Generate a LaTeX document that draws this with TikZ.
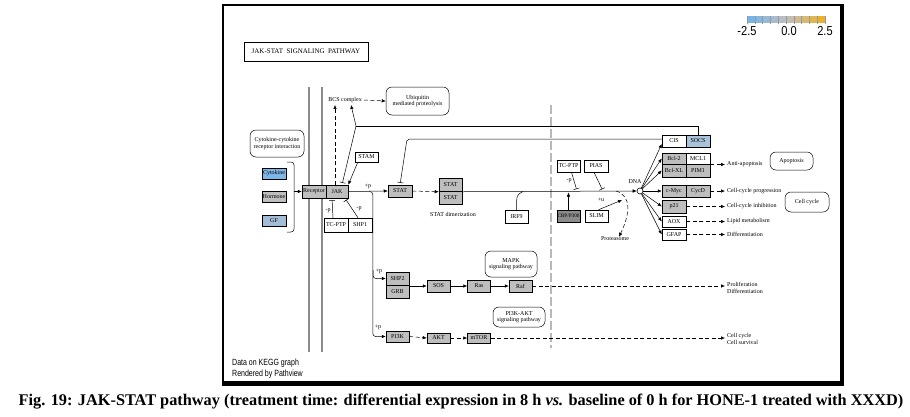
\documentclass[tikz,border=0pt]{standalone}
\usepackage{fontspec}
\setmainfont{Liberation Serif}
\setsansfont{Liberation Sans}
\usetikzlibrary{arrows.meta}
\definecolor{genegray}{HTML}{BEBEBE}
\definecolor{genedarkgray}{HTML}{8C8C8C}
\definecolor{cytoblue}{HTML}{7DB7E8}
\definecolor{gfblue}{HTML}{A3BDD6}
\definecolor{socsblue}{HTML}{A9C4DA}
\definecolor{membrane}{HTML}{8A8A8A}
\definecolor{nucmem}{HTML}{B8B8B8}
\definecolor{keyblue}{HTML}{6FB3E9}
\definecolor{keygray}{HTML}{C0C0C0}
\definecolor{keyorange}{HTML}{F2B01E}
\definecolor{keytick}{HTML}{8E9AA6}
\begin{document}
\begin{tikzpicture}[x=1pt,y=-1pt,
  gene/.style={draw,rectangle,inner sep=0pt,minimum width=24pt,minimum height=12pt,line width=0.5pt,font=\fontsize{6}{6.5}\selectfont},
  genegrey/.style={gene,fill=genegray},
  genedark/.style={gene,fill=genedarkgray},
  pathway/.style={draw,rounded corners=6pt,inner sep=0pt,align=center,line width=0.5pt,font=\fontsize{6}{6.5}\selectfont},
  lbl/.style={inner sep=0pt,align=center,font=\fontsize{6}{6.5}\selectfont},
  outlbl/.style={lbl,anchor=west,align=left,inner xsep=2pt},
  act/.style={line width=0.5pt,-{Latex[length=4pt,width=3.5pt]}},
  dact/.style={act,dash pattern=on 4pt off 2.5pt},
  inhib/.style={line width=0.5pt,-{Bar[width=6pt]},shorten >=2pt},
]
\useasboundingbox (0,0) rectangle (910,416);
\draw[line width=2pt] (223,5) rectangle (841,382);
\draw[line width=3.5pt] (842,4) -- (842,384) -- (222,384);
\node[draw,line width=0.8pt,minimum width=124pt,minimum height=19pt,inner sep=0pt,font=\fontsize{7}{7}\selectfont] (title) at (306,51.5) {JAK-STAT\ \ SIGNALING\ \ PATHWAY};
\draw[membrane,line width=1.3pt] (309,87) -- (309,352);
\draw[membrane,line width=1.3pt] (322,87) -- (322,352);
\draw[nucmem,line width=2pt,dash pattern=on 9pt off 3pt] (551,105) -- (551,348);
\foreach \i/\p in {0/90,1/70,2/50,3/30,4/10}
  \fill[keyblue!\p!keygray] (747+7.8*\i,16) rectangle ++(7.8,7);
\foreach \i/\p in {5/10,6/30,7/50,8/70,9/90}
  \fill[keyorange!\p!keygray] (747+7.8*\i,16) rectangle ++(7.8,7);
\foreach \i in {0,...,10}
  \draw[keytick,line width=0.4pt] (747+7.8*\i,16) -- ++(0,8);
\node[inner sep=0pt,font=\sffamily] (keymin) at (747,31.5) {\scalebox{0.85}[1]{\fontsize{13}{13}\selectfont -2.5}};
\node[inner sep=0pt,font=\sffamily] (keymid) at (789,31.5) {\scalebox{0.85}[1]{\fontsize{13}{13}\selectfont 0.0}};
\node[inner sep=0pt,font=\sffamily] (keymax) at (825,31.5) {\scalebox{0.85}[1]{\fontsize{13}{13}\selectfont 2.5}};
\node[lbl,inner sep=2pt] (bcs) at (345,100) {BCS complex};
\node[pathway,minimum width=63pt,minimum height=28pt] (ubiq) at (417.5,101) {Ubiquitin\\mediated proteolysis};
\node[pathway,minimum width=54pt,minimum height=27pt] (ccri) at (277,143.5) {Cytokine-cytokine\\receptor interaction};
\node[gene,fill=cytoblue,minimum height=11pt] (cytokine) at (274,173.5) {Cytokine};
\node[genegrey,minimum height=11pt] (hormone) at (274,197) {Hormone};
\node[gene,fill=gfblue,minimum height=11pt] (gf) at (274,221) {GF};
\draw[line width=0.5pt,rounded corners=3pt] (287,162) -- (294,162) -- (294,232) -- (287,232);
\coordinate (brk) at (294,191.5);
\node[genegrey,minimum height=13pt] (receptor) at (314,191.5) {Receptor};
\node[genegrey,minimum width=22pt,minimum height=13pt] (jak) at (337,191.5) {JAK};
\node[gene,minimum width=23pt,minimum height=10pt] (stam) at (366.5,157) {STAM};
\node[genegrey] (stat) at (400,191) {STAT};
\node[genegrey,minimum width=23pt,minimum height=13pt] (stattop) at (450.5,185) {STAT};
\node[genegrey,minimum width=23pt,minimum height=13pt] (statbot) at (450.5,198) {STAT};
\node[lbl] (dimlbl) at (453,214) {STAT dimerization};
\node[gene,minimum width=23pt,minimum height=13pt] (irf) at (516.5,216.5) {IRF9};
\node[gene,minimum height=14pt] (tcptp) at (336,225) {TC-PTP};
\node[gene,minimum height=14pt] (shp) at (360,225) {SHP1};
\node[genegrey,minimum width=23pt,minimum height=13pt] (shptwo) at (397.5,278.5) {SHP2};
\node[genegrey,minimum width=23pt,minimum height=13pt] (grb) at (397.5,291.5) {GRB};
\node[genegrey,minimum width=23pt] (sos) at (438.5,286) {SOS};
\node[genegrey,minimum width=23pt] (ras) at (479,286) {Ras};
\node[genegrey,minimum width=23pt] (raf) at (520.5,286) {Raf};
\node[pathway,minimum width=52pt,minimum height=26pt] (mapk) at (511,264) {MAPK\\signaling pathway};
\node[genegrey,minimum width=23pt,minimum height=11pt] (pik) at (397.5,336.5) {PI3K};
\node[genegrey,minimum width=23pt,minimum height=10pt] (akt) at (438.5,338) {AKT};
\node[genegrey,minimum width=23pt,minimum height=10pt] (mtor) at (479,338) {mTOR};
\node[pathway,minimum width=52pt,minimum height=20pt] (pikakt) at (519,317) {PI3K-AKT\\signaling pathway};
\node[gene,minimum width=23pt] (tcptpn) at (568.5,166) {TC-PTP};
\node[gene] (pias) at (596,166) {PIAS};
\node[genedark,minimum width=23pt,font=\fontsize{5.2}{6}\selectfont] (cbp) at (568.5,216) {CBP/P300};
\node[gene,minimum width=23pt] (slim) at (596.5,216) {SLIM};
\node[draw,circle,minimum size=6pt,inner sep=0pt,line width=0.6pt] (dna) at (640,191) {};
\node[lbl] (dnalbl) at (635,182) {DNA};
\node[lbl] (protlbl) at (615,239) {Proteasome};
\node[gene] (cis) at (674,141) {CIS};
\node[gene,fill=socsblue] (socs) at (698,141) {SOCS};
\node[genegrey,minimum height=11.5pt] (bcltwo) at (674,158.5) {Bcl-2};
\node[gene,minimum height=11.5pt] (mcl) at (698,158.5) {MCL1};
\node[genegrey,minimum height=12.5pt] (bclxl) at (674,170.5) {Bcl-XL};
\node[genegrey,minimum height=12.5pt] (pim) at (698,170.5) {PIM1};
\node[genegrey] (myc) at (674,191) {c-Myc};
\node[genegrey] (cycd) at (698,191) {CycD};
\node[genegrey,minimum height=13pt] (ptwo) at (674,206.5) {p21};
\node[gene,minimum height=11pt] (aox) at (674,221.5) {AOX};
\node[gene,minimum height=11pt] (gfap) at (674,234.5) {GFAP};
\node[outlbl] (antiapo) at (725,164.5) {Anti-apoptosis};
\node[pathway,minimum width=43pt,minimum height=18pt] (apo) at (791.5,161) {Apoptosis};
\node[outlbl] (ccprog) at (725,191) {Cell-cycle progression};
\node[outlbl] (ccinh) at (725,206.5) {Cell-cycle inhibition};
\node[outlbl] (lipid) at (725,221.5) {Lipid metabolism};
\node[outlbl] (diff) at (725,234.5) {Differentiation};
\node[pathway,minimum width=44pt,minimum height=20pt] (ccbox) at (807,202) {Cell cycle};
\node[outlbl] (prolif) at (725,288) {Proliferation\\Differentiation};
\node[outlbl] (survival) at (725,339) {Cell cycle\\Cell survival};
\node[anchor=west,inner sep=0pt,font=\sffamily] (kegg) at (232,363) {\scalebox{0.78}[1]{\fontsize{9}{9}\selectfont Data on KEGG graph}};
\node[anchor=west,inner sep=0pt,font=\sffamily] (pathview) at (232,374) {\scalebox{0.78}[1]{\fontsize{9}{9}\selectfont Rendered by Pathview}};
\node[anchor=base,inner sep=0pt,font=\bfseries\fontsize{16.3}{16.3}\selectfont] (caption) at (461,405) {Fig. 19: JAK-STAT pathway (treatment time: differential expression in 8 h \textit{vs.} baseline of 0 h for HONE-1 treated with XXXD)};
\draw[act] (brk) -- (receptor.west);
\draw[dact] ([xshift=-2pt]jak.north) -- ([xshift=-2pt]jak.north |- bcs.south);
\draw[dact] (bcs.east) -- (ubiq.west);
\coordinate (socsknee) at (356,126);
\draw[line width=0.5pt] (socs.north) |- (socsknee);
\draw[act] (socsknee) -- ([xshift=6pt]bcs.south);
\draw[inhib] (socsknee) -- ([xshift=5pt]jak.north);
\coordinate (cisknee) at (407,139);
\draw[inhib,rounded corners=2pt] ([yshift=2pt]cis.west) -- (cisknee) -- (stat.north);
\draw[act] ([xshift=3pt]stam.south west) -- (jak.north east);
\draw[act] (jak.east) -- node[lbl,above=2pt] (jakp) {+p} (stat.west);
\coordinate (jakfork) at (369,191.5);
\coordinate (forkshp) at (373,270);
\draw[act,rounded corners=3pt] (jakfork) -| ([xshift=-13pt]pik.west) -- (pik.west);
\draw[act,rounded corners=3pt] (forkshp) |- (shptwo.west);
\node[lbl] (shpp) at (379,271) {+p};
\node[lbl] (pikp) at (378,327) {+p};
\draw[inhib] ([xshift=-3pt]tcptp.north) -- ([xshift=-5pt]jak.south);
\node[lbl] (tcpp) at (328,211) {-p};
\draw[inhib] ([xshift=-2pt]shp.north) -- ([xshift=8pt]jak.south);
\node[lbl] (shpm) at (359,209) {-p};
\draw[dact] (stat.east) -- (stattop.south west);
\draw[act] (stattop.south east) -- (dna.west);
\coordinate (irfjoin) at (523,191.5);
\draw[line width=0.5pt] (irf.north) .. controls (516.5,195) .. (irfjoin);
\draw[act] (grb.north east |- sos.west) -- (sos.west);
\draw[act] (sos.east) -- (ras.west);
\draw[act] (ras.east) -- (raf.west);
\draw[dact] (raf.east) -- (raf.east -| prolif.west);
\draw[dact] (pik.east) -- (akt.west);
\draw[dact] (akt.east) -- (mtor.west);
\draw[dact] (mtor.east) -- (mtor.east -| survival.west);
\coordinate (tcbar) at (577,191);
\coordinate (piasbar) at (603,191);
\draw[inhib] ([xshift=3pt]tcptpn.south) -- (tcbar);
\node[lbl] (tcnp) at (569,181) {-p};
\draw[inhib] ([xshift=-2pt]pias.south) -- (piasbar);
\draw[act,shorten >=1.5pt] (cbp.north) -- (cbp.north |- tcbar);
\coordinate (slimtip) at (622,200);
\draw[act] ([xshift=2pt]slim.north) -- (slimtip);
\node[lbl] (slimu) at (601,200) {+u};
\coordinate (protstart) at (616,191);
\draw[dact] (protstart) .. controls (632,196) and (630,214) .. ([xshift=4pt]protlbl.north);
\draw[act] (dna) -- ([yshift=-3pt]cis.west);
\foreach \g in {bcltwo,bclxl,myc,ptwo,aox,gfap}
  \draw[act] (dna) -- (\g.west);
\draw[dact] (mcl.south east) -- (mcl.south east -| antiapo.west);
\draw[dact] (cycd.east) -- (ccprog.west);
\draw[dact] (ptwo.east) -- (ccinh.west);
\draw[dact] (aox.east) -- (lipid.west);
\draw[dact] (gfap.east) -- (diff.west);
\end{tikzpicture}
\end{document}
